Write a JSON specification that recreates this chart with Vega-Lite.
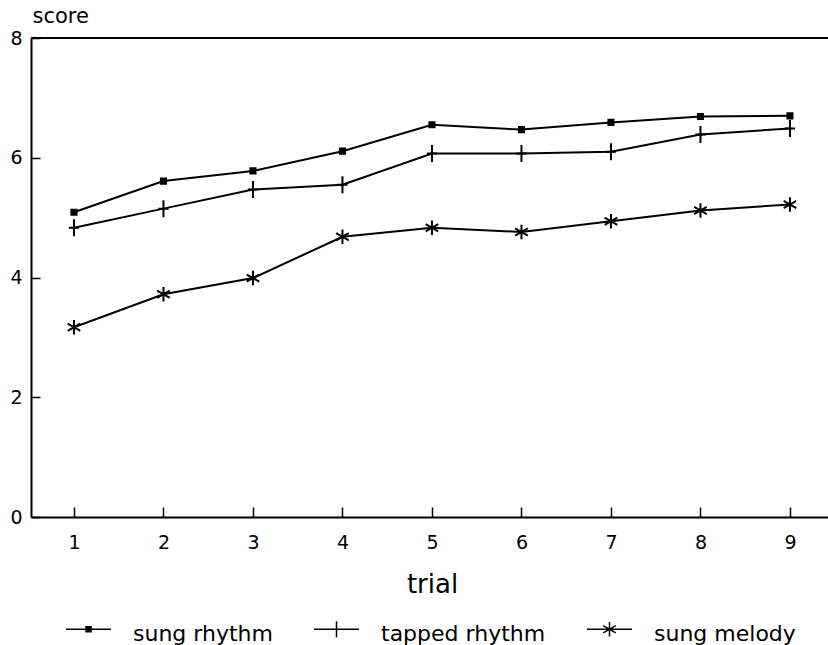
{
  "$schema": "https://vega.github.io/schema/vega-lite/v6.json",
  "width": 797,
  "height": 479,
  "autosize": "none",
  "padding": {"left": 31, "top": 38, "right": 0, "bottom": 128},
  "background": "white",
  "config": {
    "view": {"stroke": null},
    "font": "DejaVu Sans",
    "axis": {
      "domainColor": "black",
      "domainWidth": 2,
      "tickColor": "black",
      "tickWidth": 1.5,
      "labelColor": "black",
      "titleColor": "black",
      "grid": false,
      "labelFont": "DejaVu Sans",
      "titleFont": "DejaVu Sans",
      "titleFontWeight": "normal"
    }
  },
  "data": {
    "values": [
      {"trial": 1, "series": "sung rhythm", "score": 5.09},
      {"trial": 2, "series": "sung rhythm", "score": 5.61},
      {"trial": 3, "series": "sung rhythm", "score": 5.78},
      {"trial": 4, "series": "sung rhythm", "score": 6.11},
      {"trial": 5, "series": "sung rhythm", "score": 6.55},
      {"trial": 6, "series": "sung rhythm", "score": 6.47},
      {"trial": 7, "series": "sung rhythm", "score": 6.59},
      {"trial": 8, "series": "sung rhythm", "score": 6.69},
      {"trial": 9, "series": "sung rhythm", "score": 6.70},
      {"trial": 1, "series": "tapped rhythm", "score": 4.83},
      {"trial": 2, "series": "tapped rhythm", "score": 5.15},
      {"trial": 3, "series": "tapped rhythm", "score": 5.47},
      {"trial": 4, "series": "tapped rhythm", "score": 5.55},
      {"trial": 5, "series": "tapped rhythm", "score": 6.07},
      {"trial": 6, "series": "tapped rhythm", "score": 6.07},
      {"trial": 7, "series": "tapped rhythm", "score": 6.10},
      {"trial": 8, "series": "tapped rhythm", "score": 6.39},
      {"trial": 9, "series": "tapped rhythm", "score": 6.49},
      {"trial": 1, "series": "sung melody", "score": 3.17},
      {"trial": 2, "series": "sung melody", "score": 3.72},
      {"trial": 3, "series": "sung melody", "score": 3.99},
      {"trial": 4, "series": "sung melody", "score": 4.68},
      {"trial": 5, "series": "sung melody", "score": 4.83},
      {"trial": 6, "series": "sung melody", "score": 4.76},
      {"trial": 7, "series": "sung melody", "score": 4.94},
      {"trial": 8, "series": "sung melody", "score": 5.12},
      {"trial": 9, "series": "sung melody", "score": 5.22}
    ]
  },
  "resolve": {"scale": {"shape": "independent"}, "legend": {"shape": "independent"}},
  "layer": [
    {
      "mark": {"type": "line", "color": "black", "strokeWidth": 2},
      "encoding": {
        "x": {
          "field": "trial",
          "type": "quantitative",
          "scale": {"domain": [0.52, 9.425], "nice": false, "zero": false},
          "axis": {
            "values": [1, 2, 3, 4, 5, 6, 7, 8, 9],
            "format": "d",
            "title": "trial",
            "titleFontSize": 26,
            "titleBaseline": "alphabetic",
            "titleY": 75,
            "titleX": 401,
            "tickSize": -10,
            "labelPadding": 26,
            "labelFontSize": 19
          }
        },
        "y": {
          "field": "score",
          "type": "quantitative",
          "scale": {"domain": [0, 8], "nice": false},
          "axis": {
            "values": [0, 2, 4, 6, 8],
            "format": "d",
            "title": "score",
            "titleFontSize": 21,
            "titleAngle": 0,
            "titleAlign": "left",
            "titleBaseline": "alphabetic",
            "titleX": 1,
            "titleY": -16,
            "tickSize": -9,
            "labelPadding": 18,
            "labelFontSize": 19
          }
        },
        "detail": {"field": "series"}
      }
    },
    {
      "mark": {"type": "point", "fill": "black", "stroke": "black", "strokeWidth": 2, "opacity": 1, "size": 289},
      "encoding": {
        "x": {"field": "trial", "type": "quantitative"},
        "y": {"field": "score", "type": "quantitative"},
        "shape": {
          "field": "series",
          "type": "nominal",
          "scale": {
            "domain": ["sung rhythm", "tapped rhythm", "sung melody"],
            "range": [
              "M-0.3,-0.3H0.3V0.3H-0.3Z",
              "M-0.6,0H0.6M0,-1V1",
              "M0,-0.85V0.85M-0.74,-0.42L0.74,0.42M-0.74,0.42L0.74,-0.42"
            ]
          },
          "legend": null
        }
      }
    },
    {
      "mark": {"type": "point", "fill": "black", "stroke": "black", "strokeWidth": 2, "opacity": 1, "size": 0},
      "encoding": {
        "x": {"field": "trial", "type": "quantitative"},
        "y": {"field": "score", "type": "quantitative"},
        "shape": {
          "field": "series",
          "type": "nominal",
          "scale": {
            "domain": ["sung rhythm", "tapped rhythm", "sung melody"],
            "range": [
              "M-1,-0.2H1M-0.11,-0.31H0.11V-0.09H-0.11Z",
              "M-1,-0.2H1M0,-0.56V0.16",
              "M-1,-0.2H1M0,-0.52V0.12M-0.28,-0.36L0.28,-0.04M-0.28,-0.04L0.28,-0.36"
            ]
          },
          "legend": {
            "title": null,
            "orient": "none",
            "direction": "horizontal",
            "legendX": 34,
            "legendY": 572,
            "padding": 0,
            "symbolSize": 2025,
            "labelFontSize": 22,
            "labelFont": "DejaVu Sans",
            "labelColor": "black",
            "labelOffset": 21,
            "columnPadding": 38,
            "labelLimit": 300,
            "encode": {
              "symbols": {
                "update": {
                  "stroke": {"value": "black"},
                  "fill": {"value": "black"},
                  "strokeWidth": {"value": 2},
                  "opacity": {"value": 1},
                  "size": {"value": 2025}
                }
              }
            }
          }
        }
      }
    },
    {
      "mark": {"type": "rule", "color": "black", "strokeWidth": 2},
      "encoding": {"y": {"datum": 8, "type": "quantitative"}}
    }
  ]
}
